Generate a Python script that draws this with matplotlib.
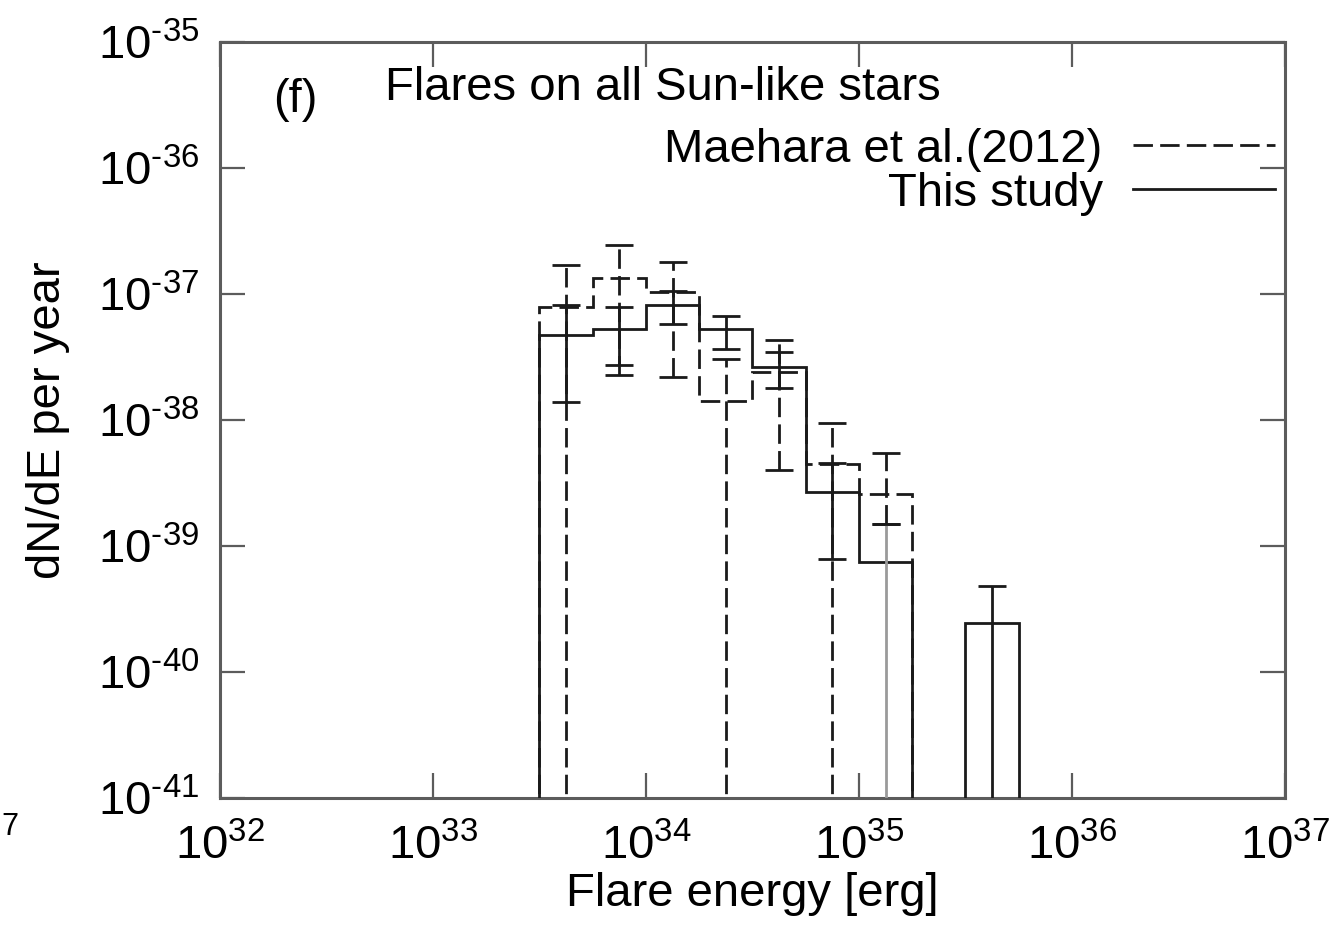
import numpy as np
import matplotlib
matplotlib.use('Agg')
import matplotlib.pyplot as plt
from matplotlib.ticker import FixedLocator, FixedFormatter, NullLocator

plt.rcParams['font.family'] = ['Liberation Sans', 'DejaVu Sans']
plt.rcParams['mathtext.fontset'] = 'custom'
plt.rcParams['mathtext.rm'] = 'Liberation Sans'
plt.rcParams['mathtext.it'] = 'Liberation Sans:italic'
plt.rcParams['mathtext.bf'] = 'Liberation Sans:bold'

# ---------------- data ----------------
# bin edges (erg), 0.25 dex wide
edges_this = [3.162e33, 5.623e33, 1.0e34, 1.778e34, 3.162e34, 5.623e34,
              1.0e35, 1.778e35, 3.162e35, 5.623e35]
edges_maehara = [3.162e33, 5.623e33, 1.0e34, 1.778e34, 3.162e34, 5.623e34,
                 1.0e35, 1.778e35]

# This study (solid)
this_val = [4.73e-38, 5.27e-38, 8.18e-38, 5.27e-38, 2.64e-38, 2.69e-39, 7.46e-40, 0.0, 2.45e-40]
this_up = [8.18e-38, 7.89e-38, 1.06e-37, 6.68e-38, 3.47e-38, 4.56e-39, 1.50e-39, np.nan, 4.82e-40]
this_lo = [1.39e-38, 2.74e-38, 5.78e-38, 3.66e-38, 1.79e-38, 7.89e-40, 0.0, np.nan, 0.0]

# Maehara et al. (2012) (dashed)
mae_val = [7.89e-38, 1.34e-37, 1.04e-37, 1.42e-38, 2.40e-38, 4.48e-39, 2.59e-39]
mae_up = [1.70e-37, 2.45e-37, 1.79e-37, 3.05e-38, 4.32e-38, 9.46e-39, 5.47e-39]
mae_lo = [0.0, 2.28e-38, 2.19e-38, 0.0, 4.01e-39, 0.0, 1.50e-39]

x_ticks = [1e32, 1e33, 1e34, 1e35, 1e36, 1e37]
x_ticklabels = [r'$10^{32}$', r'$10^{33}$', r'$10^{34}$', r'$10^{35}$', r'$10^{36}$', r'$10^{37}$']
y_ticks = [1e-41, 1e-40, 1e-39, 1e-38, 1e-37, 1e-36, 1e-35]
y_ticklabels = [r'$10^{\text{-}41}$', r'$10^{\text{-}40}$', r'$10^{\text{-}39}$', r'$10^{\text{-}38}$',
                r'$10^{\text{-}37}$', r'$10^{\text{-}36}$', r'$10^{\text{-}35}$']

title_text = 'Flares on all Sun-like stars'
panel_label = '(f)'
label_maehara = 'Maehara et al.(2012)'
label_this = 'This study'

# ---------------- plot ----------------
FS = 34
FLOOR = 1e-60
LC = '#1a1a1a'
FRAME = '#5c5c5c'
DASH = (0, (7, 2.6))

fig = plt.figure(figsize=(13.39, 9.26), dpi=100)
ax = fig.add_axes([220 / 1339, 1 - 798 / 926, 1065 / 1339, 756 / 926])
ax.set_xscale('log')
ax.set_yscale('log')
ax.set_xlim(1e32, 1e37)
ax.set_ylim(1e-41, 1e-35)


def centers(edges):
    e = np.asarray(edges)
    return np.sqrt(e[:-1] * e[1:])


def draw_series(edges, val, up, lo, ls, label, zorder, bar_colors=None):
    val = np.asarray(val, dtype=float)
    up = np.asarray(up, dtype=float)
    lo = np.asarray(lo, dtype=float)
    v_plot = np.where(val > 0, val, FLOOR)
    ax.stairs(v_plot, edges, baseline=FLOOR, color=LC, lw=2.0, linestyle=ls,
              label=label, zorder=zorder)
    xc = centers(edges)
    ok = ~np.isnan(up)
    lo_plot = np.where(lo > 0, lo, FLOOR)
    eb = ax.errorbar(xc[ok], v_plot[ok],
                     yerr=[v_plot[ok] - lo_plot[ok], up[ok] - v_plot[ok]],
                     fmt='none', ecolor=LC, elinewidth=2.0, capsize=10,
                     capthick=2.0, zorder=zorder)
    eb[2][0].set_linestyle(ls)
    if bar_colors is not None:
        eb[2][0].set_color([c for c, k in zip(bar_colors, ok) if k])
    return eb


draw_series(edges_maehara, mae_val, mae_up, mae_lo, DASH, label_maehara, 2)
this_colors = [LC, LC, LC, LC, LC, LC, '#9a9a9a', LC, LC]
draw_series(edges_this, this_val, this_up, this_lo, '-', label_this, 3, this_colors)

# axes styling
for sp in ax.spines.values():
    sp.set_color(FRAME)
    sp.set_linewidth(2.2)
ax.xaxis.set_major_locator(FixedLocator(x_ticks))
ax.xaxis.set_major_formatter(FixedFormatter(x_ticklabels))
ax.yaxis.set_major_locator(FixedLocator(y_ticks))
ax.yaxis.set_major_formatter(FixedFormatter(y_ticklabels))
ax.xaxis.set_minor_locator(NullLocator())
ax.yaxis.set_minor_locator(NullLocator())
ax.tick_params(which='major', direction='in', length=18, width=1.6, color=FRAME,
               top=True, right=True, labelsize=FS)
ax.tick_params(axis='x', pad=19)
ax.tick_params(axis='y', pad=15)

ax.set_xlabel('Flare energy [erg]', fontsize=FS)
ax.xaxis.set_label_coords(0.5, -0.098)
ax.set_ylabel('dN/dE per year', fontsize=FS)
ax.yaxis.set_label_coords(-0.141, 0.5)

ax.text((273 - 220) / 1065, 1 - (100 - 42) / 756, panel_label, transform=ax.transAxes,
        fontsize=FS, ha='left', va='center')
ax.text((385 - 220) / 1065, 1 - (88 - 42) / 756, title_text, transform=ax.transAxes,
        fontsize=FS, ha='left', va='center')

leg = ax.legend(loc='upper right', bbox_to_anchor=((1275 - 220) / 1065, 1 - (128 - 42) / 756),
                frameon=False, markerfirst=False, fontsize=FS, handlelength=3.0,
                handletextpad=0.65, labelspacing=0.0, borderpad=0, borderaxespad=0)
for t in leg.get_texts():
    t.set_ha('right')

# remnant of neighbouring panel's tick label
fig.text(1 / 1339, 1 - 842 / 926, '7', fontsize=22, ha='left', va='bottom')

fig.savefig('out.png', dpi=100)
